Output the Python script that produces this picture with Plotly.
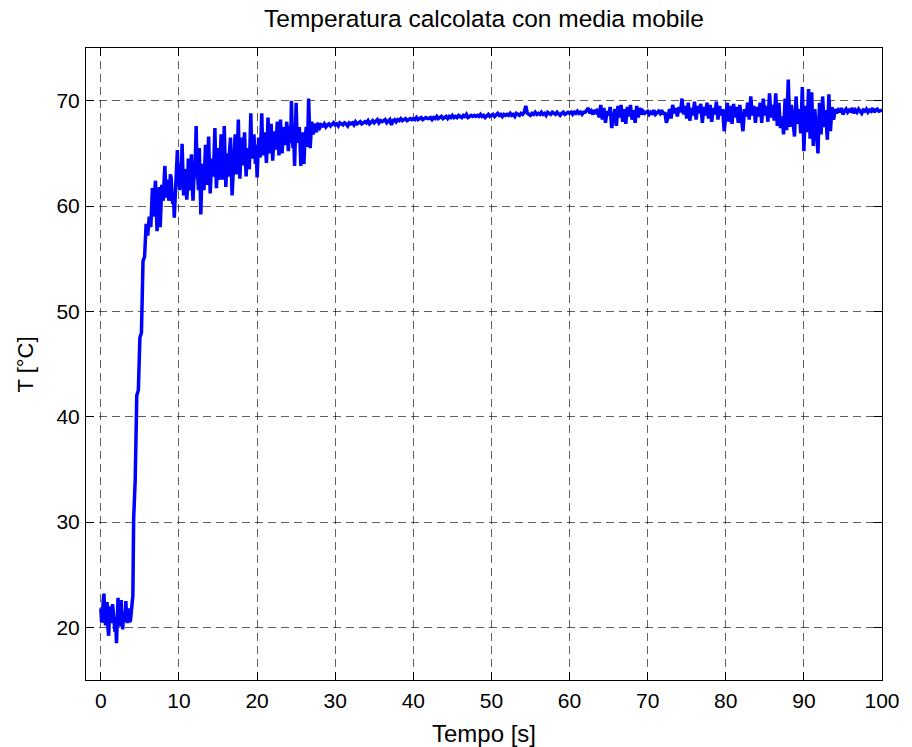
import numpy as np
import plotly.graph_objects as go

# ---------------- data ----------------
# each segment: start time [s], sampling step [s], temperature values [°C]
warmup_start, warmup_dt = 0.0, 0.1
warmup = [21.8, 20.5, 20.6, 22.5, 23.2, 21.0, 20.2, 21.8, 22.4, 20.0,
          19.2, 21.0, 22.0, 21.5, 20.4, 22.2, 21.6, 20.6, 19.6, 20.8,
          18.5, 20.5, 22.8, 21.2, 20.1, 21.5, 22.6, 20.8, 19.8, 21.2,
          21.5, 20.5, 22.5, 21.0, 20.4, 21.8, 21.2, 20.5, 20.7, 21.5,
          22.6, 23.0]

rise_start, rise_dt = 4.2, 0.2
rise = [30.3, 34.0, 42.0, 42.5, 47.5, 48.0, 54.8, 55.2, 58.3, 57.2, 59.0, 58.0]

transient_start, transient_dt = 6.6, 0.1
transient = [61.7, 60.0, 59.0, 61.5, 62.4, 59.5, 57.6, 59.8, 60.5, 61.8,
             58.0, 60.0, 62.0, 61.0, 60.5, 62.5, 63.8, 61.5, 60.8, 62.0,
             62.5, 60.5, 61.0, 63.0, 62.7, 61.2, 60.2, 61.0, 58.9, 60.5,
             62.0, 63.5, 65.3, 63.0, 62.0, 61.5, 64.0, 62.5, 65.9, 63.0,
             61.0, 62.5, 63.5, 61.8, 60.6, 62.0, 64.5, 61.5, 62.0, 63.5,
             64.9, 62.0, 60.5, 62.5, 63.0, 64.5, 67.6, 64.0, 62.5, 61.5,
             65.5, 62.0, 59.2, 62.0, 64.0, 62.5, 61.5, 63.8, 65.8, 63.0,
             62.0, 64.5, 66.6, 63.5, 61.2, 62.8, 64.5, 63.0, 62.8, 65.0,
             67.4, 64.0, 61.7, 63.5, 65.5, 62.5, 63.0, 65.0, 66.8, 64.0,
             62.5, 65.0, 67.6, 64.5, 61.8, 63.5, 65.0, 62.8, 63.5, 65.5,
             66.5, 63.5, 61.0, 62.5, 64.0, 65.5, 66.8, 64.0, 63.0, 65.5,
             68.2, 65.0, 62.6, 64.5, 66.5, 64.0, 64.0, 66.0, 67.0, 64.5,
             62.8, 64.8, 65.5, 63.8, 63.5, 66.0, 68.8, 65.5, 64.5, 66.0,
             66.8, 65.0, 64.0, 65.8, 62.7, 64.5, 66.5, 65.0, 64.6, 66.5,
             68.8, 66.0, 64.8, 66.0, 67.0, 65.5, 64.1, 66.0, 68.4, 66.5,
             65.0, 66.5, 67.8, 66.0, 64.3, 65.8, 67.1, 65.5, 65.5, 67.0,
             68.0, 66.0, 64.8, 66.5, 68.2, 66.5, 65.0, 66.2, 67.5, 66.0,
             65.8, 67.0, 68.0, 66.5, 65.2, 66.5, 67.6, 66.0, 70.0, 67.0,
             65.5, 66.5, 63.8, 66.5, 69.8, 67.0, 66.0, 67.0, 67.5, 66.0,
             63.8, 65.5, 67.0, 66.0, 64.0, 66.0, 66.8, 67.5, 65.6, 67.0,
             70.2, 67.5, 65.5, 66.8, 68.0, 67.0, 66.8, 67.8, 67.6, 67.2,
             67.0, 67.6, 67.9, 67.5]

steady_start, steady_dt = 28.0, 0.2
steady = [67.4, 67.7, 67.6, 67.8, 67.5, 67.7, 67.8, 67.6, 67.7, 67.9,
          67.7, 67.8, 67.6, 67.9, 67.8, 67.7, 67.9, 67.8, 67.6, 67.9,
          67.8, 67.9, 67.7, 68.0, 67.8, 67.9, 68.0, 67.8, 67.9, 68.0,
          67.9, 68.1, 67.8, 68.0, 68.1, 67.9, 68.0, 68.2, 67.9, 68.1,
          68.0, 68.1, 68.2, 67.9, 68.1, 68.2, 67.7, 68.1, 68.2, 68.0,
          68.2, 68.1, 68.3, 68.1, 68.2, 68.3, 68.1, 68.2, 68.3, 68.2,
          68.3, 68.2, 68.4, 68.2, 68.3, 68.4, 68.2, 68.3, 68.4, 68.3,
          68.3, 68.4, 68.2, 68.4, 68.3, 68.5, 68.3, 68.4, 68.5, 68.3,
          68.4, 68.5, 68.3, 68.5, 68.4, 68.6, 68.4, 68.5, 68.4, 68.6,
          68.5, 68.4, 68.6, 68.5, 68.7, 68.4, 68.5, 68.6, 68.5, 68.6,
          68.5, 68.6, 68.5, 68.7, 68.5, 68.6, 68.4, 68.6, 68.7, 68.5,
          68.6, 68.7, 68.5, 68.6, 68.8, 68.6, 68.7, 68.5, 68.7, 68.6,
          68.7, 68.6, 68.8, 68.6, 68.7, 68.5, 68.8, 68.7, 68.6, 68.8,
          68.7, 68.9, 69.5, 68.8, 68.7, 68.6, 68.8, 68.7, 68.9, 68.7,
          68.8, 68.7, 68.9, 68.7, 68.8, 68.6, 68.9, 68.8, 68.7, 68.9,
          68.8, 68.7, 68.9, 68.8, 68.6, 68.8, 68.9, 68.7, 68.8, 68.9,
          68.8, 68.9, 68.7, 68.9, 68.8, 69.0, 68.8, 68.9, 68.7, 68.9]

oscillation_start, oscillation_dt = 62.0, 0.2
oscillation = [68.9, 69.1, 69.3, 68.8, 69.0, 68.7, 69.1, 68.9, 69.2, 68.4,
               69.6, 68.2, 69.3, 67.9, 69.0, 68.6, 69.4, 67.4, 68.6, 69.2,
               67.6, 69.5, 68.4, 69.6, 68.0, 69.2, 67.8, 69.4, 68.5, 69.6,
               68.2, 69.1, 67.9, 69.5, 68.4, 69.3, 68.7, 69.0, 68.8, 68.9,
               69.0, 68.7, 68.9, 68.8, 69.1, 68.7, 68.9, 69.0, 68.8, 69.1,
               68.7, 68.9, 67.9, 68.4, 69.2, 68.3, 69.6, 68.8, 69.3, 68.5,
               69.4, 68.9, 70.2, 68.7, 69.5, 68.3, 69.8, 68.1, 69.3, 68.6,
               69.9, 68.2, 69.5, 68.8, 69.7, 67.9, 69.4, 68.6, 69.8, 68.3,
               69.6, 68.0, 69.3, 68.7, 69.9, 68.2, 69.5, 68.6, 69.2, 67.1,
               68.6, 69.8, 68.0, 69.5, 67.8, 69.7, 68.4, 69.4, 67.9, 69.6,
               68.3, 67.1, 69.2, 68.5, 69.8, 68.2, 70.4, 68.6, 69.5, 67.9,
               69.4, 68.5, 69.8, 67.9, 70.2, 68.6, 69.5, 68.0, 70.7, 68.4,
               69.6, 68.1, 70.7, 67.6, 69.8, 67.4, 68.5, 66.8, 70.2, 67.2,
               72.0, 67.5, 69.6, 68.2, 66.6, 70.4, 67.8, 69.2, 66.9, 71.3,
               65.2, 69.5, 67.0, 71.1, 66.4, 70.8, 65.7, 69.2, 66.5, 65.0,
               69.8, 66.8, 70.4, 67.5, 69.1, 66.3, 70.6, 67.1, 69.4, 68.2]

final_start, final_dt = 94.0, 0.2
final = [69.2, 68.8, 69.1, 68.9, 69.3, 68.7, 69.0, 69.2, 68.9, 69.1,
         69.0, 69.3, 68.8, 69.1, 68.9, 69.2, 69.0, 68.8, 69.1, 69.0,
         69.2, 68.9, 69.1, 69.0, 69.3, 68.9, 69.1, 69.2, 69.0, 69.1, 69.1]

segments = [(warmup_start, warmup_dt, warmup),
            (rise_start, rise_dt, rise),
            (transient_start, transient_dt, transient),
            (steady_start, steady_dt, steady),
            (oscillation_start, oscillation_dt, oscillation),
            (final_start, final_dt, final)]

x_ticks = [0, 10, 20, 30, 40, 50, 60, 70, 80, 90, 100]
y_ticks = [20, 30, 40, 50, 60, 70]

title_text = "Temperatura calcolata con media mobile"
x_label = "Tempo [s]"
y_label = "T [°C]"

# ---------------- build series ----------------
times, temps = [], []
for start, step, vals in segments:
    t = start + step * np.arange(len(vals))
    times.extend(t.tolist())
    temps.extend(vals)

FONT = "Liberation Sans, Arial, Helvetica, sans-serif"

fig = go.Figure()
fig.add_trace(go.Scatter(x=times, y=temps, mode="lines",
                         line=dict(color="#0000ff", width=3.5),
                         showlegend=False, hoverinfo="x+y"))

grid_color = "rgba(0,0,0,0.62)"
axis_common = dict(
    showline=True, linecolor="black", linewidth=1, mirror="ticks",
    ticks="inside", ticklen=8, tickcolor="black", tickwidth=1,
    showgrid=True, gridcolor=grid_color, gridwidth=1, griddash="8px,5px",
    zeroline=False, tickfont=dict(family=FONT, size=21, color="black"),
)

fig.update_xaxes(range=[-1.9, 100], tickmode="array", tickvals=x_ticks,
                 ticklabelstandoff=2, **axis_common)
fig.update_yaxes(range=[15, 75], tickmode="array", tickvals=y_ticks,
                 ticklabelstandoff=1, **axis_common)

fig.update_layout(
    width=912, height=747,
    margin=dict(l=86, r=24, t=48, b=67, pad=0),
    paper_bgcolor="white", plot_bgcolor="white",
    font=dict(family=FONT, color="black"),
    title=dict(text=title_text, x=0.5, xref="paper", xanchor="center",
               y=1 - 18 / 747, yref="container", yanchor="middle",
               font=dict(family=FONT, size=24.5, color="black")),
    annotations=[
        dict(text=x_label, x=0.5, xref="paper", y=-53 / 632, yref="paper",
             xanchor="center", yanchor="middle", showarrow=False,
             font=dict(family=FONT, size=24, color="black")),
        dict(text=y_label, x=-61 / 802, xref="paper", y=0.5, yref="paper",
             xanchor="center", yanchor="middle", textangle=-90,
             showarrow=False, font=dict(family=FONT, size=22, color="black")),
    ],
)

fig.write_html("out.html")
